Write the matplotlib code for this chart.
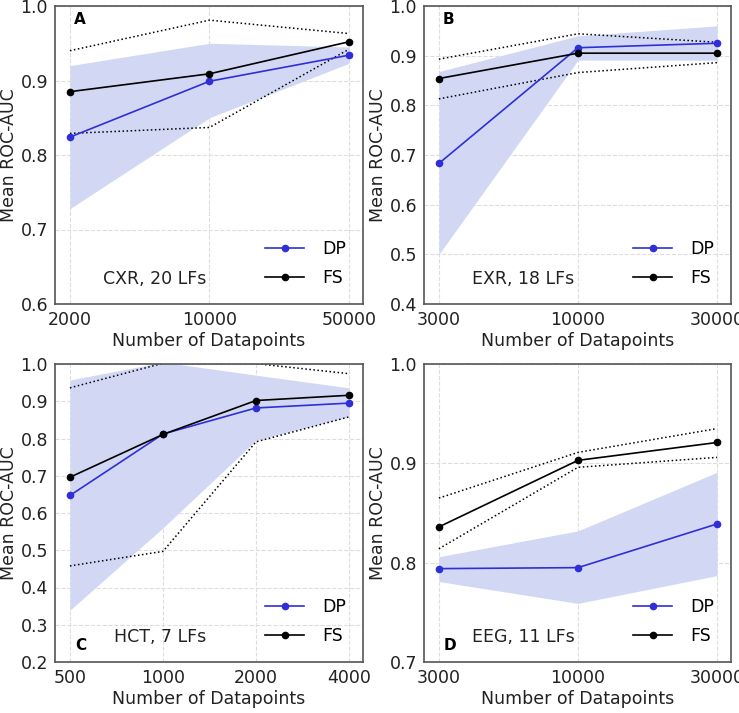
import matplotlib
matplotlib.use("Agg")
import matplotlib.pyplot as plt

plt.rcParams['font.family'] = ['DejaVu Sans']
plt.rcParams['font.size'] = 12.5

# ---- panel A: CXR ----
a_ticks = ["2000", "10000", "50000"]
a_dp = [0.824, 0.899, 0.934]
a_dp_lo = [0.728, 0.850, 0.923]
a_dp_hi = [0.920, 0.950, 0.945]
a_fs = [0.885, 0.909, 0.952]
a_fs_lo = [0.829, 0.837, 0.942]
a_fs_hi = [0.940, 0.981, 0.963]

# ---- panel B: EXR ----
b_ticks = ["3000", "10000", "30000"]
b_dp = [0.683, 0.916, 0.925]
b_dp_lo = [0.500, 0.891, 0.891]
b_dp_hi = [0.868, 0.940, 0.960]
b_fs = [0.854, 0.905, 0.905]
b_fs_lo = [0.813, 0.866, 0.886]
b_fs_hi = [0.893, 0.944, 0.927]

# ---- panel C: HCT ----
c_ticks = ["500", "1000", "2000", "4000"]
c_dp = [0.647, 0.812, 0.882, 0.895]
c_dp_lo = [0.339, 0.560, 0.795, 0.859]
c_dp_hi = [0.957, 1.005, 0.970, 0.936]
c_fs = [0.696, 0.811, 0.902, 0.916]
c_fs_lo = [0.458, 0.497, 0.791, 0.858]
c_fs_hi = [0.936, 1.002, 1.001, 0.974]

# ---- panel D: EEG ----
d_ticks = ["3000", "10000", "30000"]
d_dp = [0.794, 0.795, 0.839]
d_dp_lo = [0.781, 0.759, 0.787]
d_dp_hi = [0.806, 0.832, 0.891]
d_fs = [0.836, 0.903, 0.921]
d_fs_lo = [0.814, 0.896, 0.906]
d_fs_hi = [0.865, 0.911, 0.935]

blue = '#2f2fd8'
band = '#d2d8f4'


def panel(ax, ticks, dp, dp_lo, dp_hi, fs, fs_lo, fs_hi, ylim, letter, name, letter_top):
	x = list(range(len(ticks)))
	span = len(x) - 1
	ax.fill_between(x, dp_lo, dp_hi, color=band, linewidth=0, zorder=1)
	ax.plot(x, fs_lo, color='black', linestyle=':', linewidth=1.1, zorder=2)
	ax.plot(x, fs_hi, color='black', linestyle=':', linewidth=1.1, zorder=2)
	ax.plot(x, dp, color=blue, marker='o', markersize=4.5, linewidth=1.2, label='DP', zorder=3)
	ax.plot(x, fs, color='black', marker='o', markersize=4.5, linewidth=1.2, label='FS', zorder=3)
	ax.set_xticks(x)
	ax.set_xticklabels(ticks)
	ax.set_xlim(-0.0535 * span, span * 1.05)
	ax.set_ylim(*ylim)
	ax.grid(True, linestyle='--', color='#dddddd', linewidth=0.8)
	ax.set_axisbelow(True)
	for s in ax.spines.values():
		s.set_color('#555555')
		s.set_linewidth(1.2)
	ax.tick_params(length=0, pad=5, colors='#222222')
	ax.set_xlabel('Number of Datapoints', color='#222222', labelpad=2)
	ax.set_ylabel('Mean ROC-AUC', color='#222222', labelpad=2)
	if letter_top:
		ax.text(0.06, 0.98, letter, transform=ax.transAxes, fontweight='bold',
			fontsize=11, va='top', ha='left')
	else:
		ax.text(0.065, 0.03, letter, transform=ax.transAxes, fontweight='bold',
			fontsize=11, va='bottom', ha='left')
	ax.text(0.49, 0.055, name, transform=ax.transAxes, ha='right', va='bottom', color='#222222')
	ax.legend(loc='lower right', frameon=False, handlelength=2.25, borderaxespad=0.6,
		labelspacing=0.6, handletextpad=1.0)


fig = plt.figure(figsize=(7.39, 7.13), dpi=100)
W, H = 739.0, 713.0
ax_a = fig.add_axes([55 / W, 1 - 304 / H, 308 / W, 298 / H])
ax_b = fig.add_axes([424 / W, 1 - 304 / H, 307 / W, 298 / H])
ax_c = fig.add_axes([55 / W, 1 - 662 / H, 308 / W, 298 / H])
ax_d = fig.add_axes([424 / W, 1 - 662 / H, 307 / W, 298 / H])

panel(ax_a, a_ticks, a_dp, a_dp_lo, a_dp_hi, a_fs, a_fs_lo, a_fs_hi, (0.6, 1.0), 'A', 'CXR, 20 LFs', True)
panel(ax_b, b_ticks, b_dp, b_dp_lo, b_dp_hi, b_fs, b_fs_lo, b_fs_hi, (0.4, 1.0), 'B', 'EXR, 18 LFs', True)
panel(ax_c, c_ticks, c_dp, c_dp_lo, c_dp_hi, c_fs, c_fs_lo, c_fs_hi, (0.2, 1.0), 'C', 'HCT, 7 LFs', False)
panel(ax_d, d_ticks, d_dp, d_dp_lo, d_dp_hi, d_fs, d_fs_lo, d_fs_hi, (0.7, 1.0), 'D', 'EEG, 11 LFs', False)

ax_a.set_yticks([0.6, 0.7, 0.8, 0.9, 1.0])
ax_d.set_yticks([0.7, 0.8, 0.9, 1.0])

fig.savefig('out.png', dpi=100)
